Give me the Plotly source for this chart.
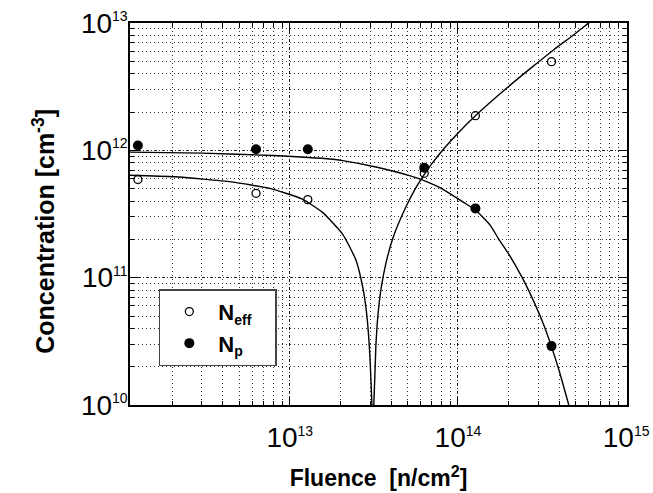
import plotly.graph_objects as go

# Measured points
fluence_pts = [1.25e12, 6.3e12, 1.28e13, 6.3e13, 1.27e14, 3.6e14]
neff_pts = [5.9e11, 4.6e11, 4.1e11, 6.6e11, 1.87e12, 4.97e12]
np_pts = [1.09e12, 1.02e12, 1.02e12, 7.3e11, 3.5e11, 2.9e10]

# Fit curves
neff_left_x = [1e12, 2.07e12, 4.49e12, 7.7e12, 1.18e13, 1.56e13, 2.06e13, 2.47e13, 2.72e13, 2.87e13, 2.99e13, 3.08e13]
neff_left_y = [6.4e11, 6.2e11, 5.65e11, 5.0e11, 4.15e11, 3.27e11, 2.2e11, 1.38e11, 8.3e10, 5.1e10, 2.5e10, 1e10]
neff_right_x = [3.16e13, 3.25e13, 3.34e13, 3.49e13, 3.73e13, 4.11e13, 4.93e13, 5.58e13, 6.07e13, 6.96e13, 8.24e13, 9.86e13, 1.27e14, 1.92e14, 2.7e14, 3.73e14, 4.8e14, 5.87e14, 6.3e14]
neff_right_y = [1e10, 2.9e10, 5.0e10, 8.2e10, 1.3e11, 2.06e11, 3.65e11, 5.0e11, 6.0e11, 7.8e11, 1.03e12, 1.34e12, 1.87e12, 3.03e12, 4.4e12, 6.2e12, 7.95e12, 9.8e12, 1.05e13]
np_curve_x = [1e12, 3e12, 8e12, 1.79e13, 2.06e13, 3.25e13, 5.21e13, 6.24e13, 8.24e13, 1.08e14, 1.27e14, 1.55e14, 1.75e14, 2.0e14, 2.41e14, 2.87e14, 3.25e14, 3.59e14, 4.0e14, 4.56e14]
np_curve_y = [9.7e11, 9.5e11, 9.1e11, 8.5e11, 8.3e11, 7.4e11, 6.3e11, 5.8e11, 4.9e11, 3.9e11, 3.4e11, 2.6e11, 2.0e11, 1.54e11, 1.0e11, 6.2e10, 4.2e10, 2.9e10, 1.85e10, 1e10]

EXP = "<sup><span style='font-size:14px'>{}</span></sup>"
x_tickvals = [1e12, 1e13, 1e14, 1e15]
x_ticktext = ["", "10" + EXP.format(13), "10" + EXP.format(14), "10" + EXP.format(15)]
y_tickvals = [1e10, 1e11, 1e12, 1e13]
y_ticktext = ["10" + EXP.format(10), "10" + EXP.format(11), "10" + EXP.format(12), "10" + EXP.format(13)]

x_minor = [m * 10 ** e for e in range(12, 15) for m in range(2, 10)]
y_minor = [m * 10 ** e for e in range(10, 13) for m in range(2, 10)]

FONT = "Liberation Sans, Arial, sans-serif"

fig = go.Figure()
line = dict(color="black", width=1.4, shape="spline", smoothing=0.5)
for cx, cy in [(neff_left_x, neff_left_y), (neff_right_x, neff_right_y), (np_curve_x, np_curve_y)]:
    fig.add_trace(go.Scatter(x=cx, y=cy, mode="lines", line=line, showlegend=False, hoverinfo="skip"))

fig.add_trace(go.Scatter(x=fluence_pts, y=neff_pts, mode="markers",
                         name="N<sub><span style='font-size:14px'>eff</span></sub>&nbsp;&nbsp;&nbsp;",
                         marker=dict(symbol="circle-open", size=8, color="black", line=dict(width=1.3, color="black"))))
fig.add_trace(go.Scatter(x=fluence_pts, y=np_pts, mode="markers",
                         name="N<sub><span style='font-size:14px'>p</span></sub>",
                         marker=dict(symbol="circle", size=10, color="black")))

tickfont = dict(family=FONT, size=28, color="black")
common = dict(type="log", showline=True, linecolor="black", linewidth=1.5, mirror="ticks",
              ticks="inside", ticklen=8, tickwidth=1, tickcolor="black",
              showgrid=True, gridcolor="#222", gridwidth=1, griddash="3px,2px,1px,2px",
              zeroline=False, tickfont=tickfont, tickmode="array", automargin=False,
              ticklabeloverflow="allow")
minor_common = dict(tickmode="array", ticks="inside", ticklen=4, tickcolor="black",
                    showgrid=True, gridcolor="#333", gridwidth=1, griddash="1px,3px")

fig.update_xaxes(**common, range=[12.05, 15.005], tickvals=x_tickvals, ticktext=x_ticktext,
                 ticklabelstandoff=7,
                 minor=dict(**minor_common, tickvals=x_minor),
                 title=dict(text="Fluence  [n/cm<sup>2</sup>]", standoff=18,
                            font=dict(family=FONT, size=23, color="black", weight="bold")))
fig.update_yaxes(**common, range=[10, 13], tickvals=y_tickvals, ticktext=y_ticktext,
                 ticklabelstandoff=-5,
                 minor=dict(**minor_common, tickvals=y_minor),
                 title=dict(text="Concentration [cm<sup>-3</sup>]&nbsp;&nbsp;&nbsp;&nbsp;&nbsp;", standoff=19,
                            font=dict(family=FONT, size=25, color="black", weight="bold")))

fig.update_layout(
    width=653, height=493,
    margin=dict(l=130, r=26, t=23, b=88),
    paper_bgcolor="white", plot_bgcolor="white",
    legend=dict(x=0.058, y=0.303, xanchor="left", yanchor="top",
                bgcolor="white", bordercolor="#444", borderwidth=1.5,
                font=dict(family=FONT, size=22, color="black", weight="bold"),
                itemwidth=48, tracegroupgap=0),
)

fig.write_html("out.html", config={"displayModeBar": False},
               post_script="document.body.style.margin='0';")
